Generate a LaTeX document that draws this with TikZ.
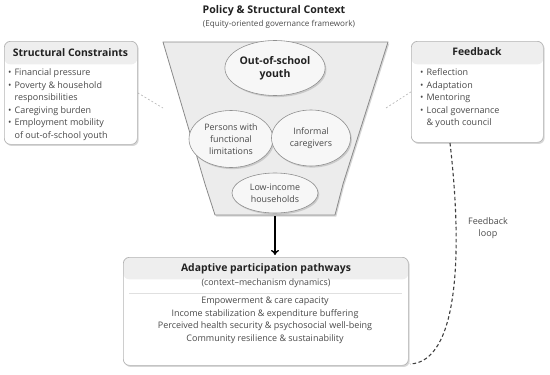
\documentclass[tikz,border=0pt]{standalone}
\usepackage{fontspec}
\setmainfont{Open Sans}
\usetikzlibrary{shadows,calc,arrows.meta,shapes.geometric}
\definecolor{boxgray}{HTML}{B4B4B4}
\definecolor{headfill}{HTML}{EEEEEE}
\definecolor{txtdark}{HTML}{222222}
\definecolor{txtgray}{HTML}{4A4A4A}
\definecolor{funfill}{HTML}{ECECEC}
\definecolor{funline}{HTML}{8A8A8A}
\definecolor{elline}{HTML}{909090}
\tikzset{
  shad/.style={drop shadow={shadow xshift=1.3pt,shadow yshift=-1.6pt,fill=black!40,opacity=0.4}},
  panel/.style={draw=boxgray, line width=0.7pt, fill=white, rounded corners=6pt, shad, inner sep=0pt, anchor=north west,
    path picture={\fill[headfill] (path picture bounding box.north west) rectangle ([yshift=-#1]path picture bounding box.north east);}},
  paneltitle/.style={font=\fontsize{10.4}{12}\selectfont\bfseries, text=txtdark, inner sep=0pt},
  listtext/.style={font=\fontsize{9}{12.5}\selectfont, text=txtgray, inner sep=0pt, anchor=north west, align=left},
  grp/.style={ellipse, draw=elline, line width=0.6pt, fill=white!97!black, shad, inner sep=0pt, align=center, text=txtgray,
    font=\fontsize{8.9}{12}\selectfont},
  faint/.style={draw=black!30, dashed, dash pattern=on 2pt off 2pt, line width=0.6pt},
  loopline/.style={draw=black!75, dash pattern=on 3.5pt off 2.5pt, line width=1.1pt},
}
\begin{document}
\begin{tikzpicture}[x=1pt,y=-1pt]
\useasboundingbox (0,0) rectangle (550,375);

% title
\node[font=\fontsize{10.6}{12}\selectfont\bfseries, text=txtdark, inner sep=0pt] (title) at (274,11) {Policy \& Structural Context};
\node[font=\fontsize{8.1}{10}\selectfont, text=txtgray, inner sep=0pt] (subtitle) at (279,24.5) {(Equity-oriented governance framework)};

% funnel
\coordinate (f1) at (163,42);
\coordinate (f2) at (388,42);
\coordinate (f3) at (343,184);
\coordinate (f4) at (335,215);
\coordinate (f5) at (215,215);
\coordinate (f6) at (205,184);
\coordinate (fbot) at (275,216);
\coordinate (fleft) at (163,108);
\coordinate (fright) at (386,108);
\fill[funfill, shad] (f1) -- (f2) -- (f3) -- (f4) -- (f5) -- (f6) -- cycle;
\draw[funline, line width=0.8pt, line join=round] (f1) -- (f2) -- (f3) -- (f4) -- (f5) -- (f6) -- cycle;

% ellipses
\node[grp, minimum width=100pt, minimum height=55pt, text=txtdark, font=\fontsize{10.5}{12.5}\selectfont\bfseries] (oos) at (275,68) {Out-of-school\\youth};
\node[grp, minimum width=84pt, minimum height=57pt] (pfl) at (231,139) {Persons with\\functional\\limitations};
\node[grp, minimum width=79pt, minimum height=56pt] (ic) at (311,138) {Informal\\caregivers};
\node[grp, minimum width=86pt, minimum height=40pt] (lih) at (275,193) {Low-income\\households};

% structural constraints box
\node[panel=23pt, minimum width=133pt, minimum height=103pt] (sc) at (4,41) {};
\node[paneltitle] (sct) at (70.5,53) {Structural Constraints};
\node[listtext] (scl) at (8,67) {\begin{tabular}{@{}l@{\hspace{3pt}}l@{}}
• & Financial pressure\\
• & Poverty \& household\\
  & responsibilities\\
• & Caregiving burden\\
• & Employment mobility\\
  & of out-of-school youth
\end{tabular}};

% feedback box
\node[panel=23pt, minimum width=132pt, minimum height=101pt] (fb) at (411,41) {};
\node[paneltitle] (fbt) at (477,52) {Feedback};
\node[listtext] (fbl) at (420,67) {\begin{tabular}{@{}l@{\hspace{3pt}}l@{}}
• & Reflection\\
• & Adaptation\\
• & Mentoring\\
• & Local governance\\
  & \& youth council
\end{tabular}};

% bottom box
\node[panel=22pt, minimum width=285pt, minimum height=108pt] (bp) at (123,257) {};
\node[paneltitle] (bpt) at (266,269) {Adaptive participation pathways};
\node[font=\fontsize{8.8}{10}\selectfont, text=txtgray, inner sep=0pt] (bps) at (266,283) {(context–mechanism dynamics)};
\coordinate (sepl) at (129,293);
\coordinate (sepr) at (402,293);
\draw[black!12, line width=0.6pt] (sepl) -- (sepr);
\node[font=\fontsize{9}{12.5}\selectfont, text=txtgray, inner sep=0pt, align=center, anchor=north] (bpl) at (265,297) {Empowerment \& care capacity\\
Income stabilization \& expenditure buffering\\
Perceived health security \& psychosocial well-being\\
Community resilience \& sustainability};

% connectors
\draw[faint] (sc.east) -- (fleft);
\draw[faint] (fright) -- (fb.west);
\draw[black, line width=1.4pt, -{To[length=5pt,width=8pt]}] (fbot) -- ([yshift=2pt]bp.north -| fbot);
\coordinate (loopstart) at (450,143);
\coordinate (loopend) at (410,364);
\draw[loopline] (loopstart) .. controls (463,255) and (458,362) .. (loopend);
\node[font=\fontsize{9}{12}\selectfont, text=txtgray, align=center, inner sep=0pt] (looplbl) at (488,228) {Feedback\\loop};
\end{tikzpicture}
\end{document}
